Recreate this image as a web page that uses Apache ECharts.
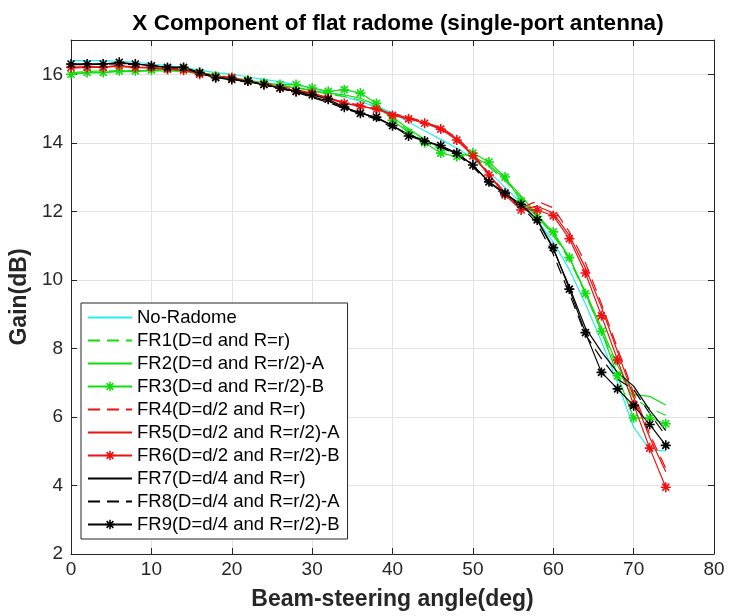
<!DOCTYPE html>
<html>
<head>
<meta charset="utf-8">
<script src="https://cdn.jsdelivr.net/npm/echarts@6/dist/echarts.min.js"></script>
<style>
html, body { margin: 0; padding: 0; background: #fff; }
#main { width: 730px; height: 616px; }
</style>
</head>
<body>
<div id="main"></div>
<script>
// beam-steering angles (deg)
const angles = [0,2,4,6,8,10,12,14,16,18,20,22,24,26,28,30,32,34,36,38,40,42,44,46,48,50,52,54,56,58,60,62,64,66,68,70,72,74];

const noRadome = [16.40,16.40,16.40,16.38,16.35,16.30,16.25,16.20,16.12,16.05,16.00,15.92,15.85,15.78,15.70,15.60,15.48,15.35,15.20,15.05,14.88,14.60,14.35,14.10,13.85,13.55,13.15,12.70,12.25,11.75,11.10,10.30,9.30,8.20,7.00,5.70,5.05,5.00];
const fr1 = [16.05,16.08,16.10,16.10,16.10,16.12,16.12,16.10,16.05,15.98,15.90,15.82,15.75,15.68,15.62,15.52,15.42,15.35,15.25,15.05,14.70,14.35,14.05,13.80,13.65,13.55,13.30,12.90,12.40,11.85,11.30,10.60,9.60,8.50,7.40,6.55,6.25,6.05];
const fr2 = [16.00,16.05,16.05,16.08,16.08,16.10,16.10,16.08,16.02,15.96,15.88,15.80,15.73,15.67,15.60,15.52,15.45,15.40,15.30,15.10,14.75,14.40,14.10,13.85,13.70,13.60,13.35,12.95,12.45,11.90,11.35,10.65,9.65,8.60,7.50,6.65,6.60,6.35];
const fr3 = [16.00,16.05,16.05,16.10,16.10,16.12,16.15,16.15,16.05,15.95,15.90,15.83,15.75,15.70,15.70,15.60,15.50,15.55,15.45,15.15,14.66,14.30,14.00,13.70,13.60,13.70,13.44,13.00,12.30,11.85,11.40,10.65,9.60,8.50,7.20,5.97,5.97,5.80];
const fr4 = [16.20,16.22,16.22,16.25,16.22,16.20,16.18,16.15,16.05,15.95,15.90,15.82,15.75,15.65,15.55,15.45,15.32,15.18,15.10,15.00,14.85,14.75,14.60,14.45,14.15,13.70,13.10,12.55,12.10,12.30,12.10,11.40,10.50,9.30,8.00,6.70,5.50,4.50];
const fr5 = [16.18,16.20,16.22,16.22,16.20,16.18,16.15,16.12,16.02,15.93,15.88,15.80,15.72,15.62,15.52,15.42,15.30,15.15,15.08,14.98,14.85,14.72,14.58,14.42,14.12,13.65,13.08,12.52,12.05,12.15,11.95,11.30,10.35,9.20,7.90,6.60,5.40,4.40];
const fr6 = [16.20,16.20,16.20,16.25,16.20,16.20,16.15,16.12,16.00,15.92,15.90,15.80,15.70,15.60,15.50,15.45,15.30,15.15,15.07,14.98,14.80,14.70,14.57,14.40,14.08,13.62,13.06,12.48,12.04,12.04,11.87,11.20,10.20,8.95,7.66,6.36,5.09,3.95];
const fr7 = [16.30,16.30,16.30,16.32,16.30,16.25,16.20,16.20,16.05,15.92,15.85,15.78,15.70,15.60,15.50,15.35,15.22,15.02,14.88,14.72,14.50,14.25,14.05,13.90,13.68,13.35,12.85,12.50,12.20,11.75,10.90,9.80,8.60,7.90,7.30,6.90,6.20,5.60];
const fr8 = [16.28,16.28,16.30,16.30,16.28,16.25,16.20,16.18,16.03,15.90,15.84,15.76,15.68,15.58,15.48,15.32,15.18,15.00,14.85,14.68,14.45,14.22,14.02,13.88,13.65,13.30,12.80,12.45,12.15,11.65,10.75,9.60,8.40,7.70,7.10,6.80,6.10,5.45];
const fr9 = [16.30,16.30,16.30,16.35,16.30,16.25,16.20,16.20,16.05,15.90,15.85,15.80,15.70,15.60,15.50,15.40,15.27,15.04,14.86,14.75,14.50,14.20,14.05,13.92,13.70,13.35,12.86,12.53,12.20,11.75,10.94,9.73,8.46,7.30,6.82,6.33,5.78,5.17];

const yTicks = [2,4,6,8,10,12,14,16];

// asterisk marker like matlab '*'
const star = "path://M4.2,0L5.8,0L5.8,10L4.2,10Z M0,4.2L10,4.2L10,5.8L0,5.8Z M0.93,2.07L2.07,0.93L9.07,7.93L7.93,9.07Z M7.93,0.93L9.07,2.07L2.07,9.07L0.93,7.93Z";
const font = "Liberation Sans";

function mk(name, arr, color, dashed, withStar) {
    return {
        name: name,
        type: "line",
        data: angles.map((a, i) => [a, arr[i]]),
        symbol: withStar ? star : "none",
        symbolSize: 10,
        showSymbol: withStar,
        color: color,
        itemStyle: { color: color },
        lineStyle: { color: color, width: 1.2, type: dashed ? [12, 7] : "solid" },
        animation: false,
        z: 3,
    };
}

const cyan = "#22eeee", green = "#11dd11", red = "#ee1111", black = "#000000";

const names = ["No-Radome", "FR1(D=d and R=r)", "FR2(D=d and R=r/2)-A", "FR3(D=d and R=r/2)-B",
    "FR4(D=d/2 and R=r)", "FR5(D=d/2 and R=r/2)-A", "FR6(D=d/2 and R=r/2)-B",
    "FR7(D=d/4 and R=r)", "FR8(D=d/4 and R=r/2)-A", "FR9(D=d/4 and R=r/2)-B"];
const starred = [false, false, false, true, false, false, true, false, false, true];

const myChart = echarts.init(document.getElementById("main"));
let option = {
    backgroundColor: "#fff",
    animation: false,
    title: {
        text: "X Component of flat radome (single-port antenna)",
        left: 393,
        top: 7,
        textAlign: "center",
        textStyle: { fontFamily: font, fontSize: 22.5, fontWeight: "bold", color: "#000" },
    },
    legend: {
        orient: "vertical",
        left: 81,
        top: 303,
        backgroundColor: "#fff",
        borderColor: "#262626",
        borderWidth: 1,
        borderRadius: 0,
        padding: [5, 8, 5, 6],
        itemWidth: 44,
        itemHeight: 12,
        itemGap: 4,
        textStyle: { fontFamily: font, fontSize: 18.5, color: "#000", padding: [0, 0, 0, 0] },
        data: names.map((n, i) => (starred[i] ? { name: n } : { name: n, itemStyle: { opacity: 0 } })),
    },
    grid: { left: 71, right: 16, top: 40, bottom: 62, show: false },
    xAxis: [{
        type: "value",
        min: 0,
        max: 80,
        interval: 10,
        name: "Beam-steering angle(deg)",
        nameLocation: "middle",
        nameGap: 34,
        nameTextStyle: { fontFamily: font, fontSize: 23, fontWeight: "bold", color: "#262626" },
        axisLine: { onZero: false, lineStyle: { color: "#262626", width: 1 } },
        axisTick: { inside: true, length: 6, lineStyle: { color: "#262626" } },
        axisLabel: { fontFamily: font, fontSize: 19, color: "#262626", margin: 6 },
        splitLine: { show: true, lineStyle: { color: "#e3e3e3", width: 1 } },
    }, {
        type: "value",
        position: "top",
        min: 0,
        max: 80,
        interval: 10,
        axisLine: { onZero: false, lineStyle: { color: "#262626", width: 1 } },
        axisTick: { inside: true, length: 6, lineStyle: { color: "#262626" } },
        axisLabel: { show: false },
        splitLine: { show: false },
    }],
    yAxis: [{
        type: "value",
        min: 2,
        max: 17,
        interval: 2,
        name: "Gain(dB)",
        nameLocation: "middle",
        nameGap: 36,
        nameTextStyle: { fontFamily: font, fontSize: 23, fontWeight: "bold", color: "#262626" },
        axisLine: { show: true, onZero: false, lineStyle: { color: "#262626", width: 1 } },
        axisTick: { show: true, inside: true, length: 6, lineStyle: { color: "#262626" } },
        axisLabel: {
            fontFamily: font, fontSize: 19, color: "#262626", margin: 8,
            formatter: (v) => (yTicks.includes(v) ? String(v) : ""),
        },
        splitLine: { show: true, lineStyle: { color: "#e3e3e3", width: 1 } },
    }, {
        type: "value",
        position: "right",
        min: 2,
        max: 17,
        interval: 2,
        axisLine: { show: true, onZero: false, lineStyle: { color: "#262626", width: 1 } },
        axisTick: { show: true, inside: true, length: 6, lineStyle: { color: "#262626" } },
        axisLabel: { show: false },
        splitLine: { show: false },
    }],
    series: [
        mk(names[0], noRadome, cyan, false, false),
        mk(names[1], fr1, green, true, false),
        mk(names[2], fr2, green, false, false),
        mk(names[3], fr3, green, false, true),
        mk(names[4], fr4, red, true, false),
        mk(names[5], fr5, red, false, false),
        mk(names[6], fr6, red, false, true),
        mk(names[7], fr7, black, false, false),
        mk(names[8], fr8, black, true, false),
        mk(names[9], fr9, black, false, true),
    ],
};
myChart.setOption(option);
</script>
</body>
</html>
